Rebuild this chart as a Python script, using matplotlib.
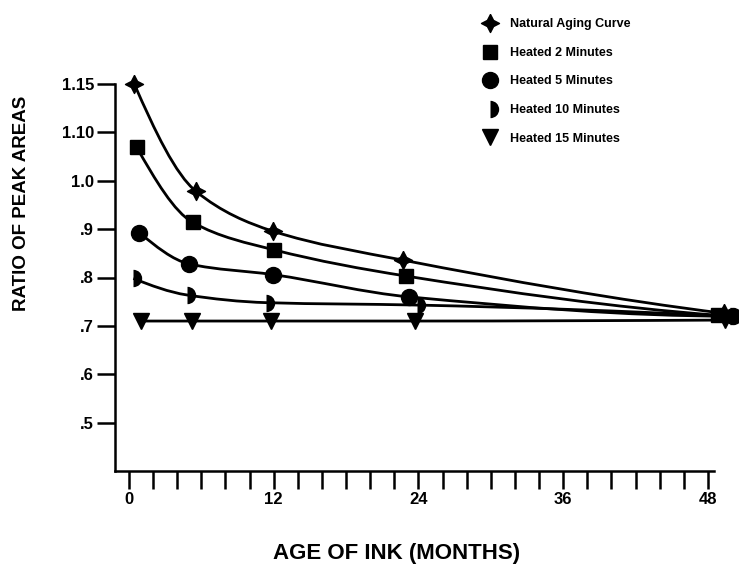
import numpy as np
import matplotlib
matplotlib.use("Agg")
import matplotlib.pyplot as plt
from matplotlib.path import Path
from matplotlib.patches import PathPatch

# values (months, ratio of peak areas)
months_natural = [0.44, 5.56, 11.9, 22.7, 49.3]
ratio_natural = [1.15, 0.978, 0.896, 0.836, 0.726]

months_2min = [0.64, 5.28, 12.05, 22.97, 48.8]
ratio_2min = [1.069, 0.914, 0.857, 0.803, 0.722]

months_5min = [0.83, 5.0, 11.94, 23.2, 50.1]
ratio_5min = [0.893, 0.828, 0.806, 0.760, 0.720]

months_10min = [0.36, 4.78, 11.4, 23.9, 49.8]
ratio_10min = [0.798, 0.764, 0.748, 0.743, 0.720]

months_15min = [0.97, 5.2, 11.75, 23.7, 49.4]
ratio_15min = [0.710, 0.710, 0.710, 0.710, 0.712]

labels = ["Natural Aging Curve", "Heated 2 Minutes", "Heated 5 Minutes",
          "Heated 10 Minutes", "Heated 15 Minutes"]

y_ticks = [0.5, 0.6, 0.7, 0.8, 0.9, 1.0, 1.10, 1.15]
y_tick_labels = [".5", ".6", ".7", ".8", ".9", "1.0", "1.10", "1.15"]
x_ticks = [0, 12, 24, 36, 48]

NARROW = ["Liberation Sans Narrow", "Liberation Sans", "DejaVu Sans"]
WIDE = ["Liberation Sans", "DejaVu Sans"]


# the original axis is stretched above 1.10 (1.10 -> 1.15 takes a full step)
def fwd(v):
    v = np.asarray(v, dtype=float)
    return np.where(v <= 1.10, v, 1.10 + 2.0 * (v - 1.10))


def inv(p):
    p = np.asarray(p, dtype=float)
    return np.where(p <= 1.10, p, 1.10 + (p - 1.10) / 2.0)


def smooth_path(xs, ys):
    """Monotone cubic bezier through the points (drawn like a french curve)."""
    x = np.asarray(xs, dtype=float)
    p = fwd(ys)
    h = np.diff(x)
    d = np.diff(p) / h
    n = len(x)
    m = np.zeros(n)
    for k in range(1, n - 1):
        if d[k - 1] * d[k] > 0:
            w1 = 2 * h[k] + h[k - 1]
            w2 = h[k] + 2 * h[k - 1]
            m[k] = (w1 + w2) / (w1 / d[k - 1] + w2 / d[k])
    for i, (h0, h1, d0, d1) in ((0, (h[0], h[1], d[0], d[1])),
                                 (n - 1, (h[-1], h[-2], d[-1], d[-2]))):
        e = ((2 * h0 + h1) * d0 - h0 * d1) / (h0 + h1)
        if e * d0 <= 0:
            e = 0.0
        elif abs(e) > 3 * abs(d0):
            e = 3 * d0
        m[i] = e
    verts = [(x[0], p[0])]
    codes = [Path.MOVETO]
    for k in range(n - 1):
        verts.append((x[k] + h[k] / 3, p[k] + m[k] * h[k] / 3))
        verts.append((x[k + 1] - h[k] / 3, p[k + 1] - m[k + 1] * h[k] / 3))
        verts.append((x[k + 1], p[k + 1]))
        codes += [Path.CURVE4] * 3
    verts = np.array(verts)
    verts[:, 1] = inv(verts[:, 1])
    return Path(verts, codes)


star = [(0, 1), (0.34, 0.34), (1, 0), (0.34, -0.34),
        (0, -1), (-0.34, -0.34), (-1, 0), (-0.34, 0.34), (0, 1)]

series = [
    (months_natural, ratio_natural, dict(marker=star, ms=13)),
    (months_2min, ratio_2min, dict(marker="s", ms=10.5)),
    (months_5min, ratio_5min, dict(marker="o", ms=11.5)),
    (months_10min, ratio_10min, dict(marker="o", ms=12.5, fillstyle="right",
                                     markerfacecoloralt="none", mew=0)),
    (months_15min, ratio_15min, dict(marker="v", ms=11.5)),
]

fig = plt.figure(figsize=(7.39, 5.65), dpi=100)
ax = fig.add_axes([115 / 739, 1 - 471 / 565, (714 - 115) / 739, (471 - 84) / 565])
ax.set_yscale("function", functions=(fwd, inv))

for (xs, ys, style), lab in zip(series, labels):
    ax.add_patch(PathPatch(smooth_path(xs, ys), fill=False, edgecolor="black",
                           lw=2, clip_on=False, zorder=2))
    ax.plot(xs, ys, ls="none", color="black", clip_on=False, zorder=3,
            label=lab, **style)

ax.set_xlim(-1.16, 48.5)
ax.set_ylim(0.4, 1.15)

for side in ("top", "right"):
    ax.spines[side].set_visible(False)
for side in ("left", "bottom"):
    ax.spines[side].set_linewidth(1.8)

ax.set_yticks(y_ticks)
ax.set_yticklabels(y_tick_labels)
ax.set_xticks(x_ticks)
ax.set_xticks(np.arange(0, 49, 2), minor=True)
ax.tick_params(axis="both", which="both", direction="out", length=13, width=1.8)
ax.tick_params(axis="y", pad=2)
ax.tick_params(axis="x", pad=2)
for t in ax.get_xticklabels() + ax.get_yticklabels():
    t.set_fontfamily(NARROW)
    t.set_fontweight("bold")
    t.set_fontsize(12)

fig.text(22 / 739, 1 - 203 / 565, "RATIO OF PEAK AREAS", rotation=90,
         ha="center", va="center", fontsize=13.5, fontweight="bold", family=WIDE)
fig.text(397 / 739, 1 - 553 / 565, "AGE OF INK (MONTHS)",
         ha="center", va="center", fontsize=16, fontweight="bold", family=WIDE)

ax.legend(loc="upper left", bbox_to_anchor=(475 / 739, 1 - 12 / 565),
          bbox_transform=fig.transFigure, frameon=False, borderpad=0,
          numpoints=1, handlelength=1.4, handletextpad=0.9, labelspacing=1.33,
          prop=dict(family=NARROW, weight="bold", size=9))

plt.savefig("out.png", dpi=100, facecolor="white")
